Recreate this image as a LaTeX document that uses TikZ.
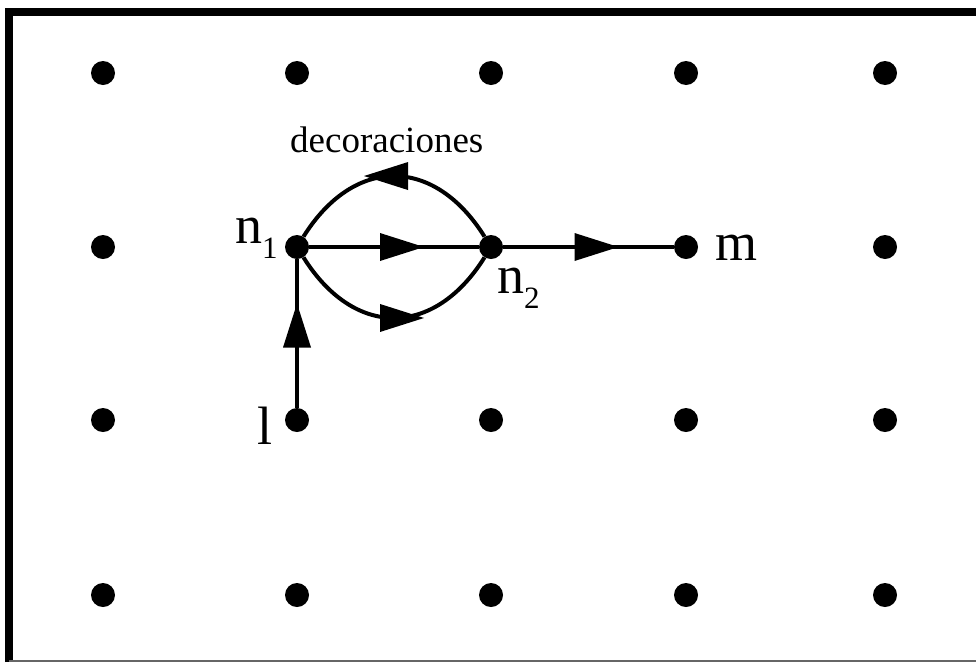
\documentclass[tikz,border=0pt]{standalone}
\usepackage{fontspec}
\setmainfont{Liberation Serif}
\usetikzlibrary{decorations.markings}
\newcommand{\lowsub}[1]{\raisebox{-15pt}{\fontsize{31}{34}\selectfont #1}}
\begin{document}
\begin{tikzpicture}[x=1pt,y=-1pt,
  dot/.style={circle,fill=black,inner sep=0pt,minimum size=24pt},
  flow/.style={line width=4pt, postaction={decorate},
    decoration={markings, mark=at position 0.5 with {\fill (-14,-14) -- (30,0) -- (-14,14) -- cycle;}}},
  big/.style={font=\fontsize{54}{60}\selectfont, inner sep=0pt},
  small/.style={font=\fontsize{37}{42}\selectfont, inner sep=0pt},
]
\useasboundingbox (0,0) rectangle (976,662);
% frame
\draw[line width=8pt] (9,662) -- (9,12) -- (976,12);
\draw[line width=1.5pt, black!60] (9,661) -- (976,661);
% grid of dots
\foreach \i/\x in {1/103,2/297,3/491,4/686,5/885}{
  \foreach \j/\y in {1/73,2/247,3/420,4/595}{
    \node[dot] (d\i\j) at (\x,\y) {};
  }
}
% edges
\draw[flow] (d23) -- (d22);
\draw[flow] (d22) -- (d32);
\draw[flow] (d32) -- (d42);
\draw[flow] (d32) to[out=122,in=58,looseness=1.35] (d22);
\draw[flow] (d22) to[out=-58,in=-122,looseness=1.35] (d32);
% labels
\node[small, anchor=base west] (deco) at (290,152) {decoraciones};
\node[big, anchor=base west] (ln1) at (235,243) {n\lowsub{1}};
\node[big, anchor=base west] (ln2) at (497,293) {n\lowsub{2}};
\node[big, anchor=base west] (lm) at (715,260) {m};
\node[big, anchor=base west] (ll) at (257,444) {l};
\end{tikzpicture}
\end{document}
